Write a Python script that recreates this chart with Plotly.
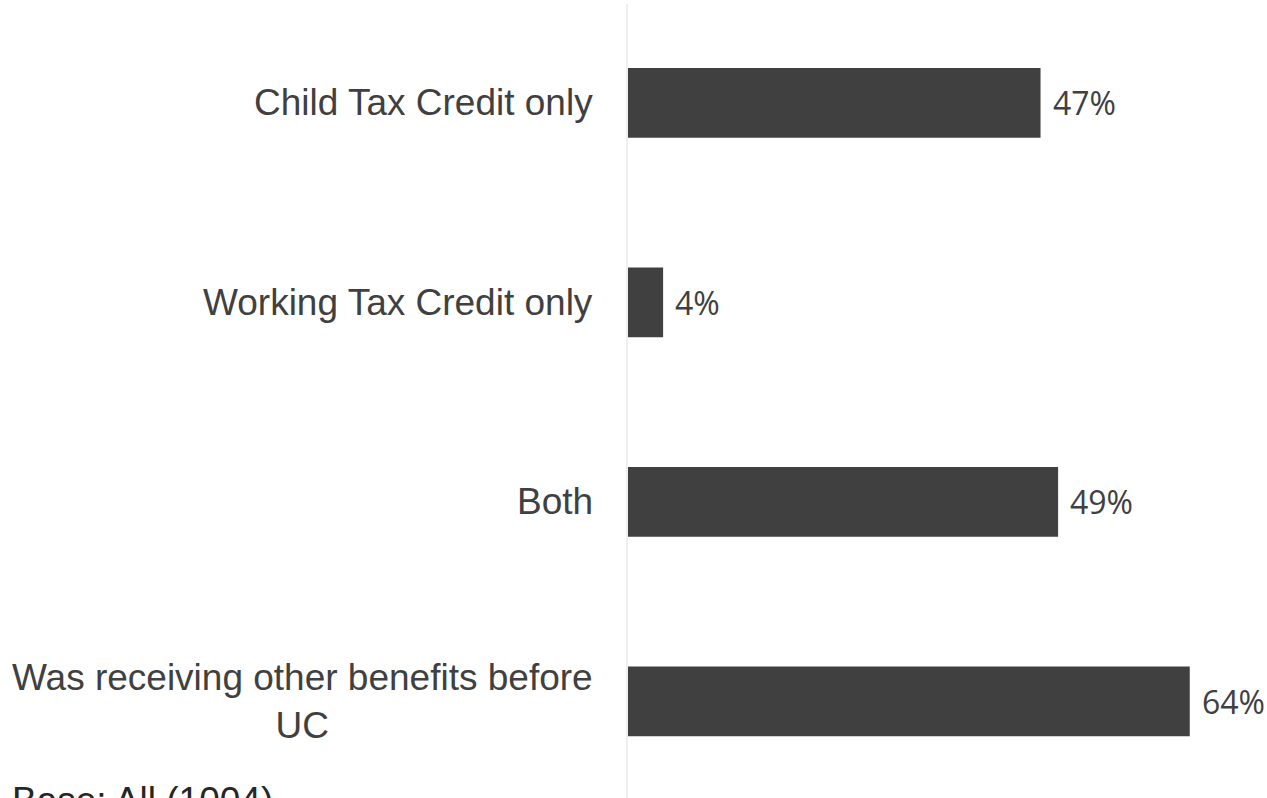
import plotly.graph_objects as go

# Survey categories (top to bottom) and share of respondents (%)
categories = [
    "Child Tax Credit only",
    "Working Tax Credit only",
    "Both",
    "Was receiving other benefits before<br>UC",
]
values = [47, 4, 49, 64]
value_labels = [f"{v}%" for v in values]
base_note = "Base: All (1004)"

BAR_COLOR = "#404040"
TEXT_COLOR = "#404040"

fig = go.Figure(
    go.Bar(
        x=values,
        y=categories,
        orientation="h",
        marker=dict(color=BAR_COLOR, line=dict(width=0)),
        width=0.35,
        hoverinfo="skip",
    )
)

# value labels to the right of each bar
for cat, v, lab in zip(categories, values, value_labels):
    fig.add_annotation(
        x=v, y=cat, xref="x", yref="y",
        text=lab, showarrow=False,
        xanchor="left", yanchor="middle", xshift=10,
        font=dict(family="Open Sans", size=32, color=TEXT_COLOR),
    )

# category labels, right-aligned against the axis, lines centred
for cat in categories:
    fig.add_annotation(
        x=0, y=cat, xref="x", yref="y",
        text=cat, showarrow=False,
        xanchor="right", yanchor="middle", xshift=-33,
        align="center",
        font=dict(family="Liberation Sans", size=37, color=TEXT_COLOR),
    )

# base note below the chart
fig.add_annotation(
    x=(10 - 628) / 639, y=0, xref="paper", yref="paper",
    xanchor="left", yanchor="top", yshift=20,
    text=base_note, showarrow=False, align="left",
    font=dict(family="Liberation Sans", size=37, color="#262626"),
)

fig.update_layout(
    width=1267,
    height=798,
    margin=dict(l=628, r=0, t=4, b=0),
    paper_bgcolor="white",
    plot_bgcolor="white",
    showlegend=False,
    xaxis=dict(
        range=[0, 72.8], showgrid=False, zeroline=False,
        showticklabels=False, ticks="", showline=False, fixedrange=True,
    ),
    yaxis=dict(
        type="category", categoryorder="array", categoryarray=categories,
        range=[3.484, -0.496], autorange=False,
        showgrid=False, zeroline=False, showticklabels=False, ticks="",
        showline=True, linecolor="#efefef", linewidth=2, fixedrange=True,
    ),
)

fig.write_html("out.html")
